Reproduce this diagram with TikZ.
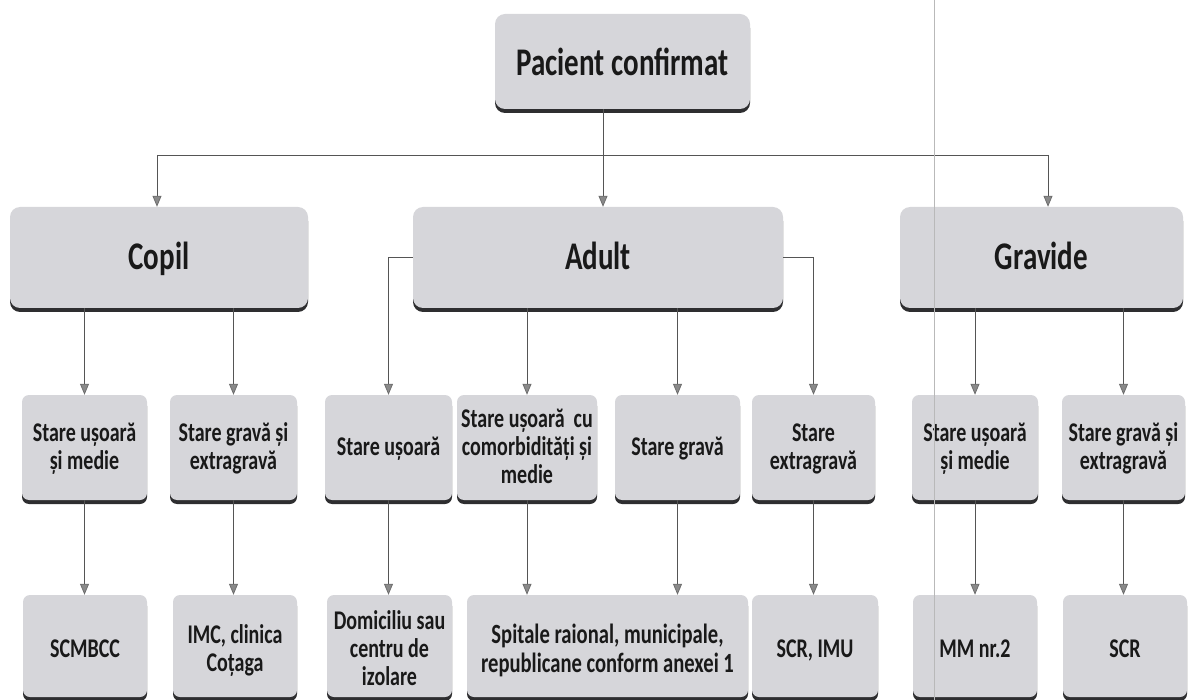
\documentclass[tikz,border=0pt]{standalone}
\usepackage{fontspec}
\usepackage{graphicx}
\setmainfont{Carlito}
\usetikzlibrary{arrows.meta,shadows,calc}
\definecolor{boxfill}{HTML}{D6D6DA}
\definecolor{boxshadow}{HTML}{2E2E30}
\definecolor{linegray}{HTML}{555555}
\definecolor{headgray}{HTML}{8A8A8A}
\newcommand\vtxt[2][2pt]{\raisebox{-#1}[\height][\depth]{\scalebox{1}[1.35]{\begin{tabular}{@{}c@{}}#2\end{tabular}}}}
\tikzset{
  box/.style={draw=none, fill=boxfill, rounded corners=7pt, align=center, inner sep=2pt,
    text=black!90, font=\bfseries\fontsize{20}{20.7}\selectfont,
    drop shadow={shadow xshift=0pt, shadow yshift=-4pt, fill=boxshadow, opacity=1}},
  bigbox/.style={box, font=\bfseries\fontsize{29}{30}\selectfont, rounded corners=10pt},
  conn/.style={draw=linegray, line width=0.8pt},
  arr/.style={conn, -{Triangle[width=9pt,length=11pt,fill=headgray,color=headgray!80!black]}},
}
\begin{document}
\begin{tikzpicture}[x=1pt,y=-1pt]
\useasboundingbox (0,0) rectangle (1196,700);

% level 0
\node[bigbox, minimum width=255pt, minimum height=95pt] (top) at (622.5,61.5) {\vtxt[6pt]{Pacient confirmat}};
% level 1
\node[bigbox, minimum width=298pt, minimum height=101pt] (copil) at (159,257.5) {\vtxt[4pt]{Copil}};
\node[bigbox, minimum width=370pt, minimum height=101pt] (adult) at (598,257.5) {\vtxt[4pt]{Adult}};
\node[bigbox, minimum width=283pt, minimum height=101pt] (gravide) at (1041.5,257.5) {\vtxt[4pt]{Gravide}};
% level 2
\node[box, minimum width=125pt, minimum height=105pt] (c1) at (84.5,447.5) {\vtxt{Stare ușoară\\și medie}};
\node[box, minimum width=127pt, minimum height=105pt] (c2) at (233.5,447.5) {\vtxt{Stare gravă și\\extragravă}};
\node[box, minimum width=127pt, minimum height=105pt] (a1) at (388.5,447.5) {\vtxt{Stare ușoară}};
\node[box, minimum width=140pt, minimum height=105pt] (a2) at (527,447.5) {\vtxt{Stare ușoară~ cu\\comorbidități și\\medie}};
\node[box, minimum width=125pt, minimum height=105pt] (a3) at (677.5,447.5) {\vtxt{Stare gravă}};
\node[box, minimum width=123pt, minimum height=105pt] (a4) at (813.5,447.5) {\vtxt{Stare\\extragravă}};
\node[box, minimum width=126pt, minimum height=105pt] (g1) at (975,447.5) {\vtxt{Stare ușoară\\și medie}};
\node[box, minimum width=123pt, minimum height=105pt] (g2) at (1123.5,447.5) {\vtxt{Stare gravă și\\extragravă}};
% level 3
\node[box, minimum width=124pt, minimum height=102pt] (d1) at (85,646) {\vtxt[6pt]{SCMBCC}};
\node[box, minimum width=124pt, minimum height=102pt] (d2) at (235,646) {\vtxt[6pt]{IMC, clinica\\Coțaga}};
\node[box, minimum width=125pt, minimum height=102pt] (d3) at (389.5,646) {\vtxt[6pt]{Domiciliu sau\\centru de\\izolare}};
\node[box, minimum width=281pt, minimum height=102pt, font=\bfseries\fontsize{20.6}{21.5}\selectfont] (d4) at (607.5,646) {\vtxt[6pt]{Spitale raional, municipale,\\republicane conform anexei 1}};
\node[box, minimum width=126pt, minimum height=102pt] (d5) at (815,646) {\vtxt[6pt]{SCR, IMU}};
\node[box, minimum width=124pt, minimum height=102pt] (d6) at (975,646) {\vtxt[6pt]{MM nr.2}};
\node[box, minimum width=124pt, minimum height=102pt] (d7) at (1125,646) {\vtxt[6pt]{SCR}};

% connectors level 0 -> 1
\coordinate (bus) at (603,155);
\coordinate (busL) at (157,155);
\coordinate (busR) at (1048,155);
\draw[conn] (top.south -| bus) -- (bus);
\draw[conn] (busL) -- (busR);
\draw[arr] (busL) -- (busL |- copil.north);
\draw[arr] (bus) -- (bus |- adult.north);
\draw[arr] (busR) -- (busR |- gravide.north);

% level 1 -> 2
\draw[arr] (copil.south -| c1.north) -- (c1.north);
\draw[arr] (copil.south -| c2.north) -- (c2.north);
\draw[arr] (adult.west) -| (a1.north);
\draw[arr] (adult.south -| a2.north) -- (a2.north);
\draw[arr] (adult.south -| a3.north) -- (a3.north);
\draw[arr] (adult.east) -| (a4.north);
\draw[arr] (gravide.south -| g1.north) -- (g1.north);
\draw[arr] (gravide.south -| g2.north) -- (g2.north);

% level 2 -> 3
\draw[arr] (c1.south) -- (c1.south |- d1.north);
\draw[arr] (c2.south) -- (c2.south |- d2.north);
\draw[arr] (a1.south) -- (a1.south |- d3.north);
\draw[arr] (a2.south) -- (a2.south |- d4.north);
\draw[arr] (a3.south) -- (a3.south |- d4.north);
\draw[arr] (a4.south) -- (a4.south |- d5.north);
\draw[arr] (g1.south) -- (g1.south |- d6.north);
\draw[arr] (g2.south) -- (g2.south |- d7.north);

% scan fold line (on top)
\draw[gray!55, line width=0.5pt] (934,0) -- (934,700);
\end{tikzpicture}
\end{document}
